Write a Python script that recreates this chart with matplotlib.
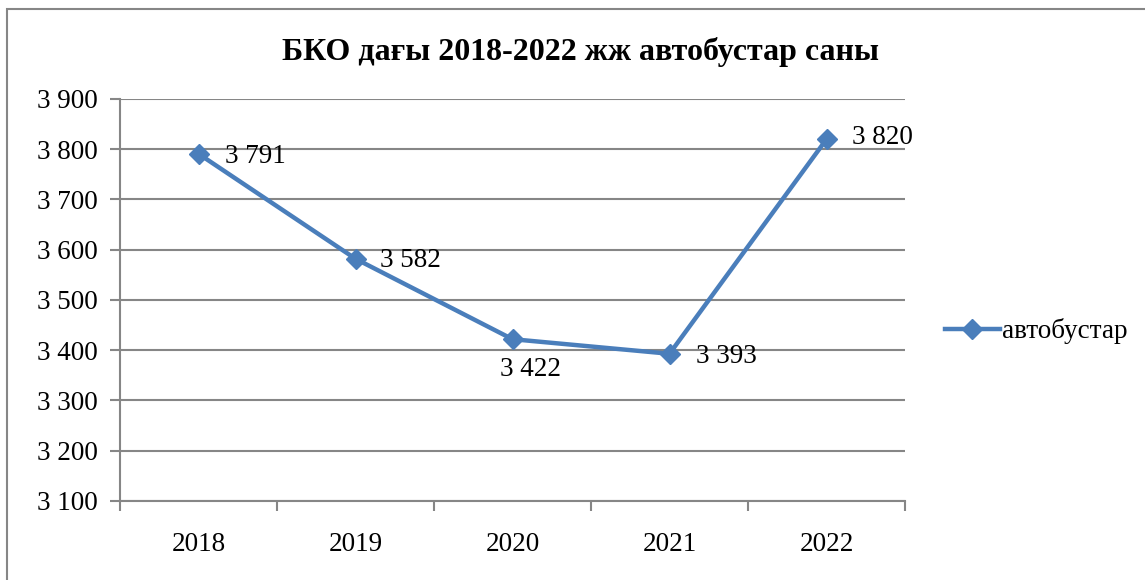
import matplotlib.pyplot as plt
from matplotlib.lines import Line2D
from matplotlib.patches import Rectangle

years = ["2018", "2019", "2020", "2021", "2022"]
buses = [3791, 3582, 3422, 3393, 3820]
yticks = [3100, 3200, 3300, 3400, 3500, 3600, 3700, 3800, 3900]
series_name = "автобустар"
title = "БКО дағы 2018-2022 жж автобустар саны"

plt.rcParams['font.family'] = ['Liberation Serif', 'DejaVu Serif']
blue = "#4A7EBB"
gray = "#868686"
fs = 19.5

fig = plt.figure(figsize=(11.45, 5.8), dpi=100)
W, H = 1145, 580
ax = fig.add_axes([120 / W, 1 - 501 / H, 785 / W, 402 / H])

x = list(range(len(years)))
ax.plot(x, buses, color=blue, lw=3.2, marker="D", markersize=10,
        solid_capstyle="round", zorder=3)

# data labels (2020 one sits under the point)
offsets = {0: (19, -2, "left"), 1: (18, -1, "left"), 2: (13, -22, "center"),
           3: (19, -2, "left"), 4: (18, 1, "left")}
for i, v in enumerate(buses):
    dx, dy, ha = offsets[i]
    ax.annotate(f"{v // 1000} {v % 1000:03d}", (i, v), xytext=(dx, dy),
                textcoords="offset points", ha=ha, va="center", fontsize=fs)

ax.set_xlim(-0.5, len(years) - 0.5)
ax.set_ylim(3100, 3900)
ax.set_yticks(yticks)
ax.set_yticklabels([f"{t // 1000} {t % 1000:03d}" for t in yticks], fontsize=fs)
ax.set_xticks([i - 0.5 for i in range(len(years) + 1)])
ax.set_xticklabels([])
ax.set_xticks(x, minor=True)
ax.set_xticklabels(years, minor=True, fontsize=fs)
ax.tick_params(axis="x", which="minor", length=0, pad=22)
ax.tick_params(axis="x", which="major", length=7, color=gray, width=1.5)
ax.tick_params(axis="y", length=7, color=gray, width=1.5, pad=9)
ax.grid(axis="y", color=gray, lw=1.5)
ax.set_axisbelow(True)
for s in ["top", "right"]:
    ax.spines[s].set_visible(False)
for s in ["left", "bottom"]:
    ax.spines[s].set_color(gray)
    ax.spines[s].set_linewidth(1.5)

handle = Line2D([], [], color=blue, lw=3.2, marker="D", markersize=10)
fig.legend([handle], [series_name], loc="center left", frameon=False,
           bbox_to_anchor=(921 / W, 1 - 331 / H), fontsize=fs,
           handlelength=2.0, handletextpad=0.1)

fig.text(581 / W, 1 - 52 / H, title, ha="center", va="center",
         fontsize=23, fontweight="bold")

fig.patches.append(Rectangle((7 / W, -0.05), 1.2, 1 - 9 / H + 0.05,
                             transform=fig.transFigure, fill=False,
                             edgecolor=gray, lw=1.5))

fig.savefig("out.png", dpi=100)
